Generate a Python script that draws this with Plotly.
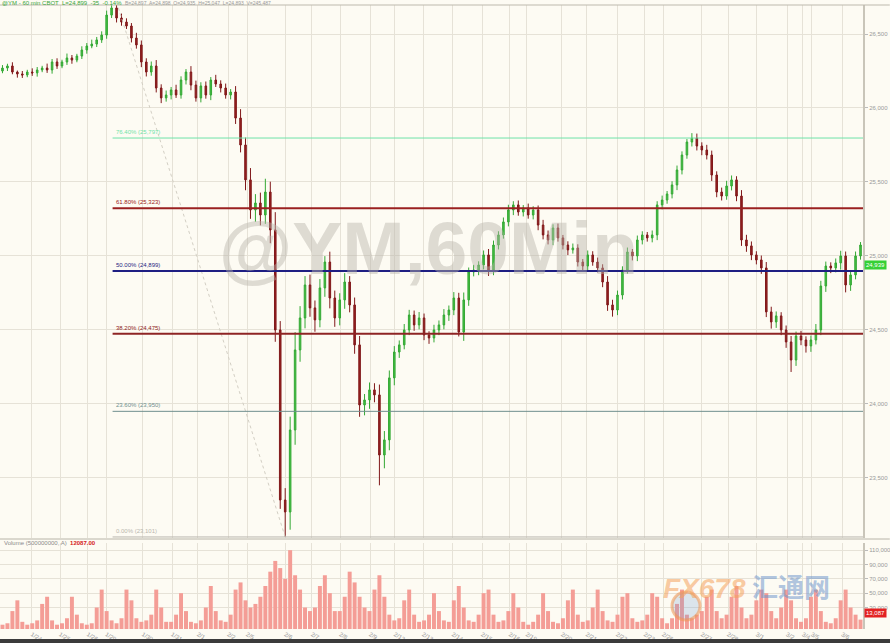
import plotly.graph_objects as go

# ---------------- data ----------------
first_open = 26250
closes = [
    26270, 26284, 26243, 26230, 26223, 26243, 26237, 26257, 26270, 26257,
    26311, 26284, 26311, 26338, 26324, 26351, 26392, 26419, 26432, 26460,
    26493, 26628, 26676, 26608, 26581, 26554, 26473, 26426, 26311, 26243,
    26284, 26135, 26068, 26088, 26122, 26088, 26189, 26243, 26155, 26068,
    26149, 26088, 26189, 26162, 26135, 26088, 26108, 25932, 25750, 25514,
    25311, 25358, 25277, 25432, 25176, 24500, 23351, 23270, 23824, 24365,
    24581, 24804, 24649, 24568, 24784, 24959, 24716, 24581, 24703, 24824,
    24669, 24399, 23993, 24027, 24095, 24061, 23655, 23757, 24176, 24351,
    24399, 24500, 24601, 24534, 24581, 24466, 24446, 24500, 24534, 24601,
    24635, 24716, 24486, 24703, 24892, 24905, 24939, 25007, 24905, 25074,
    25142, 25230, 25311, 25345, 25297, 25324, 25277, 25311, 25209, 25142,
    25108, 25189, 25122, 25074, 25041, 25054, 24959, 24932, 25007, 24959,
    24919, 24824, 24669, 24635, 24736, 24905, 25027, 25000, 25108, 25142,
    25122, 25142, 25345, 25378, 25419, 25480, 25581, 25682, 25770, 25797,
    25743, 25716, 25682, 25547, 25432, 25405, 25473, 25514, 25405, 25108,
    25068, 25007, 24973, 24919, 24622, 24554, 24595, 24500, 24419, 24297,
    24459, 24432, 24392, 24432, 24500, 24797, 24932, 24919, 24953, 25000,
    24804, 24872, 25000, 25074,
]
wick_hi = [
    20, 15, 25, 10, 20, 15, 25, 20, 15, 30,
    20, 25, 15, 30, 20, 15, 25, 20, 30, 20,
    25, 30, 21, 40, 30, 25, 20, 35, 30, 25,
    30, 40, 25, 30, 20, 35, 25, 20, 40, 30,
    25, 30, 20, 35, 25, 30, 20, 40, 60, 50,
    80, 60, 70, 90, 70, 120, 60, 80, 90, 120,
    80, 60, 70, 50, 60, 40, 70, 50, 45, 60,
    40, 50, 60, 40, 50, 45, 70, 60, 50, 40,
    30, 40, 35, 30, 40, 30, 25, 35, 30, 40,
    30, 40, 35, 50, 30, 35, 25, 30, 40, 30,
    25, 30, 35, 25, 30, 20, 30, 25, 30, 35,
    30, 25, 30, 20, 25, 30, 25, 20, 30, 25,
    30, 25, 40, 35, 30, 25, 30, 20, 30, 25,
    20, 30, 25, 30, 20, 25, 30, 25, 20, 33,
    30, 25, 35, 30, 25, 30, 35, 30, 25, 40,
    35, 30, 25, 30, 40, 35, 30, 25, 30, 40,
    30, 35, 25, 30, 40, 35, 30, 25, 30, 35,
    30, 25, 30, 20,
]
wick_lo = [
    15, 20, 15, 25, 20, 15, 20, 25, 15, 20,
    25, 20, 15, 20, 25, 15, 20, 25, 15, 20,
    20, 25, 20, 30, 25, 20, 30, 25, 35, 30,
    25, 30, 35, 25, 30, 20, 25, 30, 35, 25,
    30, 25, 35, 20, 30, 25, 30, 40, 50, 70,
    60, 80, 70, 60, 90, 80, 60, 169, 120, 100,
    80, 70, 60, 80, 50, 60, 70, 60, 50, 60,
    50, 60, 80, 70, 60, 50, 205, 90, 70, 50,
    40, 30, 35, 40, 30, 35, 40, 30, 35, 30,
    40, 35, 30, 60, 40, 30, 35, 30, 40, 35,
    30, 25, 30, 35, 25, 30, 25, 30, 35, 30,
    30, 35, 25, 30, 35, 25, 30, 35, 30, 25,
    30, 35, 40, 45, 35, 30, 25, 30, 35, 30,
    25, 30, 35, 30, 25, 30, 35, 30, 25, 30,
    30, 35, 30, 40, 35, 30, 25, 30, 35, 40,
    40, 35, 30, 40, 35, 45, 40, 35, 40, 81,
    40, 35, 45, 40, 30, 35, 40, 35, 30, 45,
    50, 40, 30, 25,
]
volumes = [
    6000, 8000, 25000, 40000, 10000, 6000, 8000, 12000, 35000, 45000,
    12000, 6000, 8000, 15000, 45000, 20000, 8000, 6000, 8000, 30000,
    55000, 25000, 12000, 8000, 15000, 55000, 40000, 15000, 10000, 12000,
    20000, 55000, 30000, 10000, 10000, 20000, 50000, 25000, 10000, 8000,
    12000, 30000, 60000, 25000, 12000, 10000, 20000, 55000, 65000, 40000,
    30000, 35000, 45000, 60000, 80000, 95000, 85000, 70000, 110000, 75000,
    55000, 30000, 25000, 30000, 60000, 75000, 50000, 25000, 25000, 45000,
    80000, 65000, 45000, 30000, 25000, 55000, 75000, 45000, 20000, 12000,
    15000, 40000, 55000, 20000, 10000, 12000, 20000, 50000, 25000, 12000,
    10000, 40000, 60000, 30000, 12000, 10000, 20000, 50000, 55000, 20000,
    10000, 12000, 25000, 50000, 30000, 10000, 6000, 10000, 20000, 50000,
    25000, 10000, 8000, 15000, 40000, 55000, 20000, 10000, 12000, 30000,
    55000, 25000, 12000, 10000, 20000, 45000, 50000, 15000, 10000, 12000,
    20000, 50000, 45000, 15000, 8000, 15000, 35000, 55000, 20000, 15000,
    20000, 25000, 45000, 55000, 25000, 15000, 20000, 45000, 60000, 30000,
    15000, 20000, 40000, 55000, 50000, 25000, 15000, 30000, 55000, 40000,
    15000, 10000, 15000, 45000, 55000, 25000, 10000, 8000, 15000, 40000,
    55000, 30000, 20000, 13087,
]

price_ticks = [23500, 24000, 24500, 25000, 25500, 26000, 26500]
vol_ticks = [30000, 50000, 70000, 90000, 110000]
day_ticks = [5.9, 11.6, 17.2, 20.9, 28.3, 34.2, 39.4, 45.5, 49.3, 57.0, 62.4,
             68.1, 74.1, 79.1, 84.8, 90.8, 96.7, 102.3, 105.7, 112.8, 117.8,
             123.9, 129.5, 133.2, 141.0, 146.3, 152.1, 158.2, 161.4, 163.2, 169.3]
day_labels = ["1/24", "1/25", "1/26", "1/29", "1/30", "1/31", "2/1", "2/2", "2/5",
              "2/6", "2/7", "2/8", "2/9", "2/12", "2/13", "2/14", "2/15", "2/16",
              "2/19", "2/20", "2/21", "2/22", "2/23", "2/26", "2/27", "2/28",
              "3/1", "3/2", "3/4", "3/5", "3/6"]

fib_prices = [23101, 23950, 24475, 24899, 25323, 25797]
fib_names = ["0.00%", "23.60%", "38.20%", "50.00%", "61.80%", "76.40%"]
fib_colors = ["#b9b6ae", "#6f8f8f", "#8e2424", "#1e1e82", "#9a2020", "#6fe3a8"]
fib_widths = [1, 1, 2, 2, 2, 1]

last_price = 24939
last_volume = 13087

# ---------------- derived candles ----------------
opens = [first_open] + closes[:-1]
highs = [max(o, c) + w for o, c, w in zip(opens, closes, wick_hi)]
lows = [min(o, c) - w for o, c, w in zip(opens, closes, wick_lo)]
bars = list(range(len(closes)))
peak_i = max(bars, key=lambda i: highs[i])
low_i = min(bars, key=lambda i: lows[i])

FONT = "Liberation Sans, Arial, sans-serif"
BG = "#fdfbf3"
GRID = "#e6e2d7"

# pixel helpers for layout placement (plot area spans y=5..629)
TOP, BOT = 5, 629
def py(y_px):
    return (BOT - y_px) / (BOT - TOP)

fig = go.Figure()
fig.add_trace(go.Candlestick(
    x=bars, open=opens, high=highs, low=lows, close=closes,
    xaxis="x", yaxis="y", whiskerwidth=0, showlegend=False, hoverinfo="skip",
    increasing=dict(line=dict(color="#34a834", width=1), fillcolor="#44c044"),
    decreasing=dict(line=dict(color="#80181a", width=1), fillcolor="#96201f"),
))
fig.add_trace(go.Bar(
    x=bars, y=volumes, xaxis="x", yaxis="y2", showlegend=False, hoverinfo="skip",
    marker=dict(color="#f49d96", line=dict(width=0)),
))

shapes = []
annotations = []

# diagonal fib drawing line
shapes.append(dict(type="line", xref="x", yref="y", x0=peak_i, y0=highs[peak_i],
                   x1=low_i, y1=lows[low_i],
                   line=dict(color="#d3cfc4", width=1, dash="dot")))

# fib lines + labels
for p, n, c, w in zip(fib_prices, fib_names, fib_colors, fib_widths):
    shapes.append(dict(type="line", xref="x", yref="y", x0=peak_i - 0.8, x1=173.5,
                       y0=p, y1=p, line=dict(color=c, width=w)))
    annotations.append(dict(xref="x", yref="y", x=peak_i - 0.5, y=p, xanchor="left",
                            yanchor="bottom", yshift=1, showarrow=False,
                            text=f"{n} ({p:,})",
                            font=dict(family=FONT, size=6, color=c)))

# top border line
shapes.append(dict(type="line", xref="paper", yref="paper", x0=0, x1=1.031, y0=1, y1=1,
                   line=dict(color="#bdb9ad", width=1)))
# separator between price and volume panes
shapes.append(dict(type="line", xref="paper", yref="paper", x0=0, x1=1.031,
                   y0=py(539), y1=py(539), line=dict(color="#b8b4a8", width=1)))
# bottom dark band
shapes.append(dict(type="rect", xref="paper", yref="paper", x0=-0.01, x1=1.04,
                   y0=py(645), y1=py(639), line=dict(width=0), fillcolor="#3b3b3b"))
# logo emblem
shapes.append(dict(type="circle", xref="paper", yref="paper", x0=672 / 863, x1=700 / 863,
                   y0=py(620), y1=py(592), line=dict(color="rgba(240,150,80,0.55)", width=3),
                   fillcolor="rgba(120,160,210,0.25)"))

# watermark
annotations.append(dict(xref="paper", yref="paper", x=0.497, y=py(248), showarrow=False,
                        text="<b>@YM,60Min</b>",
                        font=dict(family=FONT, size=75, color="rgba(185,180,170,0.45)")))
# logo text
annotations.append(dict(xref="paper", yref="paper", x=748 / 863, y=py(606), showarrow=False,
                        text="<b><i>FX678</i></b>",
                        font=dict(family=FONT, size=28, color="rgba(245,160,90,0.55)")))
annotations.append(dict(xref="paper", yref="paper", x=832 / 863, y=py(606), showarrow=False,
                        text="<b>汇通网</b>",
                        font=dict(family="Noto Sans CJK SC", size=26, color="rgba(110,150,205,0.55)")))

# header
annotations.append(dict(xref="paper", yref="paper", x=0.0, y=py(3), xanchor="left",
                        yanchor="middle", showarrow=False,
                        text="@YM - 60 min CBOT  L=24,899  -35  -0.14%  "
                             "<span style='color:#9a9a9a;font-size:5px'>B=24,897  A=24,898  O=24,935  H=25,047  L=24,893  V=245,487</span>",
                        font=dict(family=FONT, size=6, color="#3aa63a")))
# volume header
annotations.append(dict(xref="paper", yref="paper", x=0.002, y=py(543), xanchor="left",
                        yanchor="middle", showarrow=False,
                        text="Volume (500000000, A)  <span style='color:#d42020'><b>12087.00</b></span>",
                        font=dict(family=FONT, size=6, color="#8a8a8a")))
# last price badge
annotations.append(dict(xref="paper", yref="y", x=1.001, y=last_price, xanchor="left",
                        yanchor="middle", showarrow=False, text=f"{last_price:,}",
                        bgcolor="#35d035", borderpad=1,
                        font=dict(family=FONT, size=6, color="white")))
# last volume badge
annotations.append(dict(xref="paper", yref="paper", x=1.001, y=py(613), xanchor="left",
                        yanchor="middle", showarrow=False, text=f"{last_volume:,}",
                        bgcolor="#e32222", borderpad=1,
                        font=dict(family=FONT, size=6, color="white")))

fig.update_layout(
    width=890, height=643,
    margin=dict(l=0, r=27, t=TOP, b=643 - BOT),
    paper_bgcolor=BG, plot_bgcolor=BG,
    bargap=0.2, boxgap=0.55, showlegend=False,
    font=dict(family=FONT, size=6, color="#9a9a9a"),
    xaxis=dict(range=[-0.5, 173.5], anchor="y2", tickvals=day_ticks, ticktext=day_labels,
               tickfont=dict(size=6, color="#9a9a9a"), showgrid=True, gridcolor=GRID,
               gridwidth=1, rangeslider=dict(visible=False), zeroline=False,
               ticks="", showline=False, fixedrange=True, automargin=False),
    yaxis=dict(domain=[py(538), 1], range=[23094, 26696], side="right", anchor="x",
               tickvals=price_ticks, tickformat=",d", tickfont=dict(size=6, color="#9a9a9a"),
               showgrid=True, gridcolor=GRID, zeroline=False, ticks="outside", ticklen=3,
               tickcolor="#bbb", showline=True, linecolor="#c9c5b9", linewidth=2,
               automargin=False),
    yaxis2=dict(domain=[0, py(543)], range=[0, 120000], side="right", anchor="x",
                tickvals=vol_ticks, tickformat=",d", tickfont=dict(size=6, color="#9a9a9a"),
                showgrid=True, gridcolor=GRID, zeroline=False, ticks="outside", ticklen=3,
                tickcolor="#bbb", showline=True, linecolor="#c9c5b9", linewidth=2,
                automargin=False),
    shapes=shapes, annotations=annotations,
)

fig.write_html("out.html", config={"displayModeBar": False},
               post_script="document.body.style.margin='0';document.body.style.overflow='hidden';")
